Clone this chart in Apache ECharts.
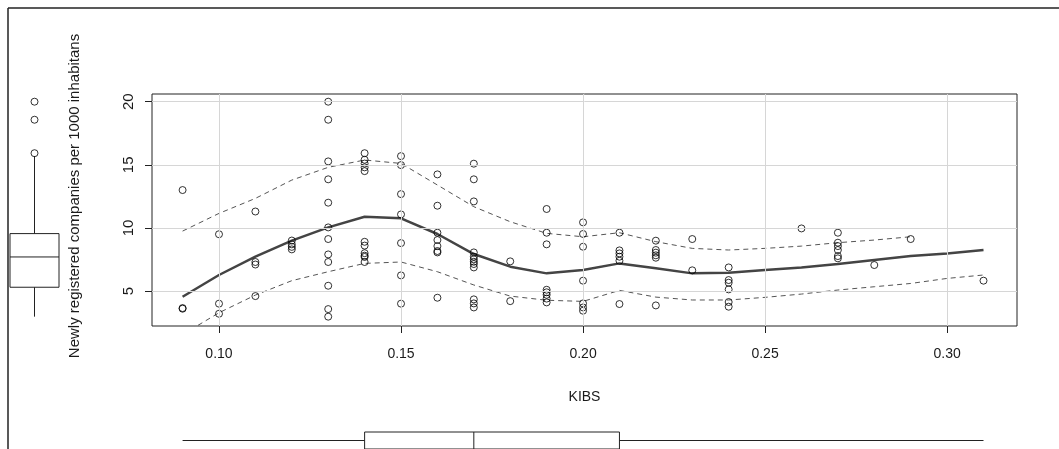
<!DOCTYPE html>
<html><head><meta charset="utf-8">
<script src="https://cdn.jsdelivr.net/npm/echarts@6/dist/echarts.min.js"></script>
<style>html,body{margin:0;padding:0;background:#fff}#c{width:1059px;height:449px}</style>
</head><body><div id="c"></div>
<script>
// ---- data ----
const kibs = [
  0.09,0.09,0.09,
  0.10,0.10,0.10,
  0.11,0.11,0.11,0.11,
  0.12,0.12,0.12,0.12,
  0.13,0.13,0.13,0.13,0.13,0.13,0.13,0.13,0.13,0.13,0.13,0.13,
  0.14,0.14,0.14,0.14,0.14,0.14,0.14,0.14,0.14,0.14,0.14,
  0.15,0.15,0.15,0.15,0.15,0.15,0.15,
  0.16,0.16,0.16,0.16,0.16,0.16,0.16,0.16,
  0.17,0.17,0.17,0.17,0.17,0.17,0.17,0.17,0.17,0.17,0.17,0.17,
  0.18,0.18,
  0.19,0.19,0.19,0.19,0.19,0.19,0.19,0.19,
  0.20,0.20,0.20,0.20,0.20,0.20,0.20,
  0.21,0.21,0.21,0.21,0.21,0.21,
  0.22,0.22,0.22,0.22,0.22,0.22,
  0.23,0.23,
  0.24,0.24,0.24,0.24,0.24,0.24,
  0.26,
  0.27,0.27,0.27,0.27,0.27,0.27,
  0.28,
  0.29,
  0.31
];
const newReg = [
  13.0,3.6,3.65,
  9.5,4.0,3.2,
  11.3,7.3,7.1,4.6,
  9.0,8.7,8.5,8.3,
  20.0,18.57,15.27,13.85,12.0,10.04,9.12,7.9,7.3,5.42,3.57,2.97,
  15.92,15.4,15.1,14.8,14.5,8.9,8.6,8.0,7.8,7.7,7.3,
  15.69,14.98,12.68,11.07,8.8,6.24,4.0,
  14.24,11.76,9.62,9.04,8.56,8.17,8.06,4.47,
  15.09,13.85,12.1,8.06,7.72,7.51,7.32,7.14,6.87,4.34,4.02,3.7,
  7.35,4.2,
  11.5,9.62,8.7,5.1,4.9,4.7,4.4,4.1,
  10.44,9.52,8.51,5.82,4.02,3.7,3.44,
  9.62,8.22,7.98,7.72,7.4,3.97,
  8.99,8.25,8.04,7.83,7.64,3.86,
  9.12,6.64,
  6.87,5.87,5.66,5.13,4.13,3.76,
  9.96,
  9.62,8.83,8.56,8.25,7.77,7.59,
  7.06,
  9.12,
  5.82
];
const fitX = [0.09,0.10,0.11,0.12,0.13,0.14,0.15,0.16,0.17,0.18,0.19,0.20,0.21,0.22,0.23,0.24,0.25,0.26,0.27,0.28,0.29,0.30,0.31];
const fitY = [4.55,6.27,7.72,8.99,10.04,10.89,10.76,9.52,7.93,6.93,6.4,6.66,7.19,6.8,6.4,6.45,6.66,6.87,7.14,7.46,7.77,7.98,8.25];
const upperY = [9.75,11.15,12.34,13.79,14.8,15.38,15.11,13.4,11.68,10.49,9.57,9.3,9.62,8.91,8.38,8.25,8.38,8.56,8.83,9.04,9.3];
const lowerY = [1.55,3.28,4.68,5.82,6.53,7.19,7.3,6.53,5.48,4.6,4.27,4.18,5.05,4.52,4.29,4.29,4.5,4.76,5.08,5.34,5.6,6.0,6.27];
const xTicks = [0.10,0.15,0.20,0.25,0.30];
const yTicks = [5,10,15,20];
const yBox = [2.97,5.3,7.7,9.55,15.69];
const yOutliers = [15.92,18.57,20.0];
const xBox = [0.09,0.14,0.17,0.21,0.31];

const X_MIN = 0.0816, X_MAX = 0.3192, Y_MIN = 2.23, Y_MAX = 20.61;
const FONT = 'Liberation Sans, Arial, sans-serif';
const TXT = '#1a1a1a';

function vBox(params, api){
  const c = api.value(0);
  const lo = api.coord([c, api.value(1)]), q1 = api.coord([c, api.value(2)]),
        md = api.coord([c, api.value(3)]), q3 = api.coord([c, api.value(4)]),
        hi = api.coord([c, api.value(5)]);
  const hw = api.size([1, 0])[0] / 2;
  const style = {stroke: '#222', fill: 'none', lineWidth: 1};
  return {type: 'group', children: [
    {type: 'rect', shape: {x: q3[0]-hw, y: q3[1], width: 2*hw, height: q1[1]-q3[1]}, style},
    {type: 'line', shape: {x1: md[0]-hw, y1: md[1], x2: md[0]+hw, y2: md[1]}, style},
    {type: 'line', shape: {x1: lo[0], y1: lo[1], x2: q1[0], y2: q1[1]}, style},
    {type: 'line', shape: {x1: q3[0], y1: q3[1], x2: hi[0], y2: hi[1]}, style}
  ]};
}
function hBox(params, api){
  const c = api.value(5);
  const lo = api.coord([api.value(0), c]), q1 = api.coord([api.value(1), c]),
        md = api.coord([api.value(2), c]), q3 = api.coord([api.value(3), c]),
        hi = api.coord([api.value(4), c]);
  const hh = api.size([0, 1])[1] / 2;
  const style = {stroke: '#222', fill: 'none', lineWidth: 1};
  return {type: 'group', children: [
    {type: 'rect', shape: {x: q1[0], y: q1[1]-hh, width: q3[0]-q1[0], height: 2*hh}, style},
    {type: 'line', shape: {x1: md[0], y1: md[1]-hh, x2: md[0], y2: md[1]+hh}, style},
    {type: 'line', shape: {x1: lo[0], y1: lo[1], x2: q1[0], y2: q1[1]}, style},
    {type: 'line', shape: {x1: q3[0], y1: q3[1], x2: hi[0], y2: hi[1]}, style}
  ]};
}

const chart = echarts.init(document.getElementById('c'), null, {renderer: 'canvas'});
chart.setOption({
  animation: false,
  backgroundColor: '#fff',
  textStyle: {fontFamily: FONT},
  grid: [
    {left: 152, top: 94, width: 865, height: 232, show: true, borderColor: '#222', borderWidth: 1, backgroundColor: 'transparent'},
    {left: 10, top: 94, width: 49, height: 232},
    {left: 152, top: 432, width: 865, height: 21}
  ],
  xAxis: [
    {gridIndex: 0, type: 'value', min: X_MIN, max: X_MAX,
     axisLine: {show: false}, splitLine: {show: false},
     axisTick: {show: true, customValues: xTicks, length: 7, lineStyle: {color: '#222'}},
     axisLabel: {customValues: xTicks, formatter: v => v.toFixed(2), fontSize: 14, color: TXT, fontFamily: FONT, margin: 21},
     name: 'KIBS', nameLocation: 'middle', nameGap: 64,
     nameTextStyle: {fontSize: 14, color: TXT, fontFamily: FONT}},
    {gridIndex: 1, type: 'value', min: 0, max: 1, show: false},
    {gridIndex: 2, type: 'value', min: X_MIN, max: X_MAX, show: false}
  ],
  yAxis: [
    {gridIndex: 0, type: 'value', min: Y_MIN, max: Y_MAX,
     axisLine: {show: false}, splitLine: {show: false},
     axisTick: {show: true, customValues: yTicks, length: 7, lineStyle: {color: '#222'}},
     axisLabel: {customValues: yTicks, rotate: 90, fontSize: 15, color: TXT, fontFamily: FONT, margin: 16}},
    {gridIndex: 1, type: 'value', min: Y_MIN, max: Y_MAX, show: false},
    {gridIndex: 2, type: 'value', min: 0, max: 1, show: false}
  ],
  graphic: [
    {type: 'line', shape: {x1: 8, y1: 8, x2: 1059, y2: 8}, style: {stroke: '#222', lineWidth: 1.5}, silent: true},
    {type: 'line', shape: {x1: 8, y1: 8, x2: 8, y2: 449}, style: {stroke: '#222', lineWidth: 1.5}, silent: true},
    {type: 'text', x: 75, y: 196, rotation: Math.PI / 2,
     style: {text: 'Newly registered companies per 1000 inhabitans', fontSize: 15, fontFamily: FONT, fill: TXT, align: 'center', verticalAlign: 'middle'}}
  ],
  series: [
    {type: 'line', xAxisIndex: 0, yAxisIndex: 0, data: [], silent: true, z: 1,
     markLine: {silent: true, symbol: ['none', 'none'], label: {show: false},
       lineStyle: {color: '#d6d6d6', type: 'solid', width: 1},
       data: xTicks.map(v => ({xAxis: v})).concat(yTicks.map(v => ({yAxis: v})))}},
    {type: 'line', xAxisIndex: 0, yAxisIndex: 0, z: 2, symbol: 'none', silent: true,
     data: upperY.map((v, i) => [fitX[i], v]),
     lineStyle: {color: '#555', width: 1, type: [5, 4]}},
    {type: 'line', xAxisIndex: 0, yAxisIndex: 0, z: 2, symbol: 'none', silent: true,
     data: lowerY.map((v, i) => [fitX[i], v]),
     lineStyle: {color: '#555', width: 1, type: [5, 4]}},
    {type: 'line', xAxisIndex: 0, yAxisIndex: 0, z: 3, symbol: 'none', silent: true,
     data: fitY.map((v, i) => [fitX[i], v]),
     lineStyle: {color: '#444', width: 2.5}},
    {type: 'scatter', xAxisIndex: 0, yAxisIndex: 0, z: 4, symbol: 'circle', symbolSize: 7,
     data: kibs.map((x, i) => [x, newReg[i]]),
     itemStyle: {color: 'rgba(0,0,0,0)', borderColor: '#000', borderWidth: 1}},
    {type: 'custom', xAxisIndex: 1, yAxisIndex: 1, renderItem: vBox, silent: true,
     data: [[0.5].concat(yBox)]},
    {type: 'scatter', xAxisIndex: 1, yAxisIndex: 1, symbol: 'circle', symbolSize: 7,
     data: yOutliers.map(v => [0.5, v]),
     itemStyle: {color: 'rgba(0,0,0,0)', borderColor: '#000', borderWidth: 1}},
    {type: 'custom', xAxisIndex: 2, yAxisIndex: 2, renderItem: hBox, silent: true,
     data: [xBox.concat([0.5])]}
  ]
});
</script></body></html>
